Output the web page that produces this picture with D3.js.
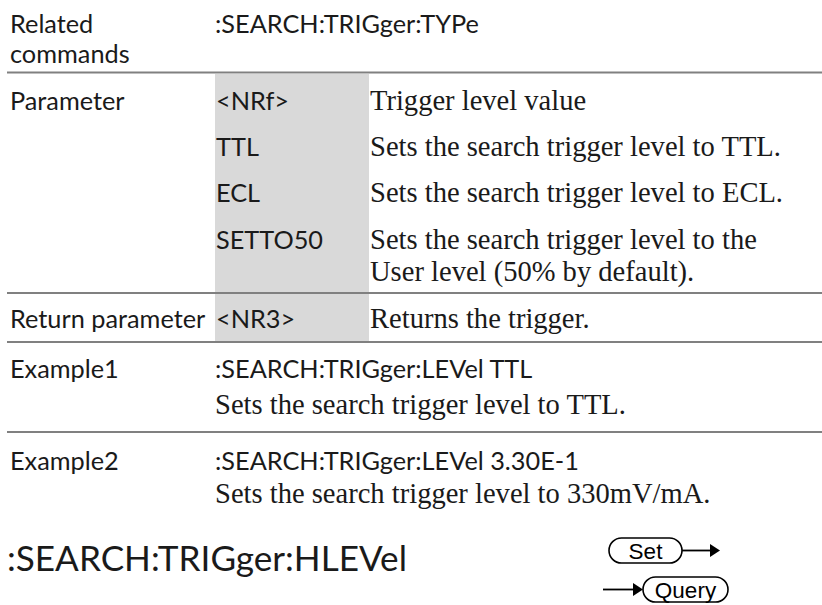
<!DOCTYPE html>
<html>
<head>
<meta charset="utf-8">
<script src="https://cdn.jsdelivr.net/npm/d3@7/dist/d3.min.js"></script>
<style>
html,body{margin:0;padding:0;background:#fff;}
svg{display:block;}
</style>
</head>
<body>
<svg id="chart" width="822" height="605"></svg>
<script>
// ---- content ----
const relatedLabel = ["Related", "commands"];
const relatedCommand = ":SEARCH:TRIGger:TYPe";
const paramLabel = "Parameter";
const paramNames = ["<NRf>", "TTL", "ECL", "SETTO50"];
const paramDescs = [
  ["Trigger level value"],
  ["Sets the search trigger level to TTL."],
  ["Sets the search trigger level to ECL."],
  ["Sets the search trigger level to the", "User level (50% by default)."]
];
const returnLabel = "Return parameter";
const returnName = "<NR3>";
const returnDesc = "Returns the trigger.";
const exampleLabels = ["Example1", "Example2"];
const exampleCommands = [":SEARCH:TRIGger:LEVel TTL", ":SEARCH:TRIGger:LEVel 3.30E-1"];
const exampleDescs = ["Sets the search trigger level to TTL.", "Sets the search trigger level to 330mV/mA."];
const buttonLabels = ["Set", "Query"];
const nextHeading = ":SEARCH:TRIGger:HLEVel";

// ---- layout ----
const W = 822, H = 605;
const svg = d3.select("#chart");
const SANS = "Lato, 'Open Sans', sans-serif";
const SERIF = "'Liberation Serif', 'DejaVu Serif', serif";
const BTN = "'Liberation Sans', Arial, sans-serif";
const INK = "#1a1a1a";

// calibrate font sizes to the reference widths
function measure(txt, family) {
  const t = svg.append("text").attr("font-family", family).attr("font-size", 100).text(txt);
  const w = t.node().getComputedTextLength();
  t.remove();
  return w;
}
const sansSize = 100 * 264 / measure(relatedCommand, SANS);
const serifSize = 100 * 411 / measure(paramDescs[1][0], SERIF);
const headSize = 100 * 400 / measure(nextHeading, SANS);

// columns
const x = d3.scaleOrdinal().domain(["label", "name", "desc"]).range([10, 216, 370]);
const grayX0 = 215, grayX1 = 369;

// row baselines
const yRow = d3.scaleOrdinal()
  .domain(["rel1","rel2","p0","p1","p2","p3","p3b","ret","ex1","ex1b","ex2","ex2b","head"])
  .range([33, 63, 110, 156, 202, 249, 281, 328, 378, 414, 470, 503, 571]);
const rules = [72.5, 293, 342, 432];

// gray column
svg.append("rect").attr("x", grayX0).attr("y", 74).attr("width", grayX1 - grayX0)
  .attr("height", 342 - 74).attr("fill", "#d9d9d9");

// rules
svg.selectAll("line.rule").data(rules).join("line").attr("class", "rule")
  .attr("x1", 7).attr("x2", W).attr("y1", d => d).attr("y2", d => d)
  .attr("stroke", "#808080").attr("stroke-width", 2);

function txt(s, xx, yy, fam, size) {
  return svg.append("text").attr("x", xx).attr("y", yy).attr("font-family", fam)
    .attr("font-size", size).attr("fill", INK).text(s);
}

// related commands
txt(relatedLabel[0], x("label"), yRow("rel1"), SANS, sansSize);
txt(relatedLabel[1], x("label"), yRow("rel2"), SANS, sansSize);
txt(relatedCommand, 215, yRow("rel1"), SANS, sansSize);

// parameters
txt(paramLabel, x("label"), yRow("p0"), SANS, sansSize);
paramNames.forEach((n, i) => {
  txt(n, x("name"), yRow("p" + i), SANS, sansSize);
  paramDescs[i].forEach((line, j) => {
    txt(line, x("desc"), j === 0 ? yRow("p" + i) : yRow("p" + i + "b"), SERIF, serifSize);
  });
});

// return parameter
txt(returnLabel, x("label"), yRow("ret"), SANS, sansSize);
txt(returnName, x("name"), yRow("ret"), SANS, sansSize);
txt(returnDesc, x("desc"), yRow("ret"), SERIF, serifSize);

// examples
exampleLabels.forEach((lab, i) => {
  const k = "ex" + (i + 1);
  txt(lab, x("label"), yRow(k), SANS, sansSize);
  txt(exampleCommands[i], 215, yRow(k), SANS, sansSize);
  txt(exampleDescs[i], 215, yRow(k + "b"), SERIF, serifSize);
});

// Set / Query buttons
const btn = [
  {label: buttonLabels[0], x0: 609, x1: 682, y0: 538, arrow: [682, 720]},
  {label: buttonLabels[1], x0: 643, x1: 728, y0: 577, arrow: [603, 643]}
];
const bh = 25;
btn.forEach(b => {
  const g = svg.append("g");
  g.append("rect").attr("x", b.x0).attr("y", b.y0).attr("width", b.x1 - b.x0).attr("height", bh)
    .attr("rx", bh / 2).attr("fill", "#fff").attr("stroke", "#000").attr("stroke-width", 1.6);
  g.append("text").attr("x", (b.x0 + b.x1) / 2).attr("y", b.y0 + bh / 2 + 8)
    .attr("text-anchor", "middle").attr("font-family", BTN)
    .attr("font-size", 22.5).attr("fill", "#000").text(b.label);
  const ym = b.y0 + bh / 2;
  const [a0, a1] = b.arrow;
  g.append("line").attr("x1", a0).attr("x2", a1 - 8).attr("y1", ym).attr("y2", ym)
    .attr("stroke", "#000").attr("stroke-width", 1.8);
  g.append("path").attr("d", d3.line()([[a1 - 10, ym - 6.5], [a1, ym], [a1 - 10, ym + 6.5]]) + "Z")
    .attr("fill", "#000");
});

// next heading
txt(nextHeading, 7, yRow("head"), SANS, headSize);
</script>
</body>
</html>
